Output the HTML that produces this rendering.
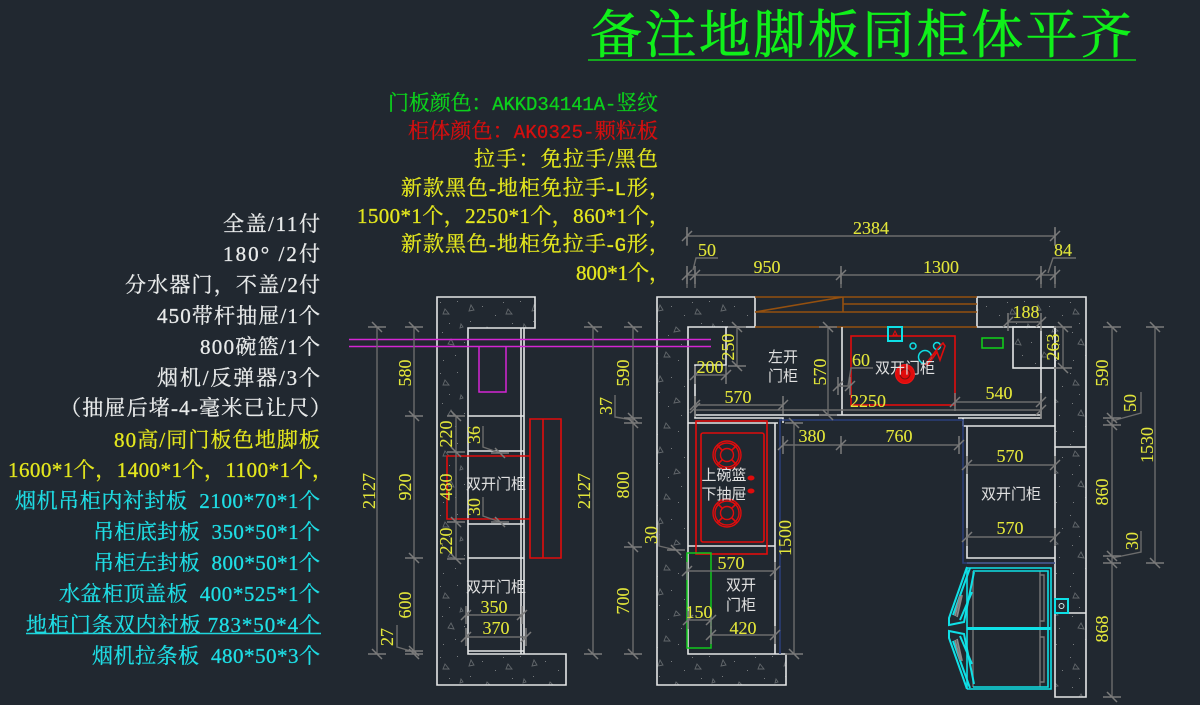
<!DOCTYPE html>
<html lang="zh"><head><meta charset="utf-8"><title>备注地脚板同柜体平齐</title>
<style>
html,body{margin:0;padding:0;background:#212830;width:1200px;height:705px;overflow:hidden}
svg{display:block}
text{white-space:pre}
.l{font-family:"Liberation Serif","Noto Serif CJK SC",serif;font-size:21px;text-anchor:end;stroke-width:.3}
.m{font-family:"Liberation Mono",monospace;font-size:19px}
.d{font-family:"Liberation Serif",serif;font-size:18px;fill:#e3e63a;stroke:#e3e63a;stroke-width:.1;text-anchor:middle}
.c{font-family:"Noto Sans CJK SC",sans-serif;font-size:15px;fill:#e0e0e0;text-anchor:middle}
.w{fill:#e8eaea;stroke:#e8eaea}.y{fill:#e3e61e;stroke:#e3e61e}.b{fill:#1fdde4;stroke:#1fdde4}
.g{fill:#0cd01c;stroke:#0cd01c}.r{fill:#d40f0f;stroke:#d40f0f}
.dim{stroke:#6c6c6c;stroke-width:1.4;fill:none}
.wl{stroke:#e4e6e6;stroke-width:1.6;fill:none}
.red{stroke:#e00c0c;stroke-width:1.6;fill:none}
.br{stroke:#94500f;stroke-width:1.6;fill:none}
.cy{stroke:#0fe0e6;stroke-width:2;fill:none}
</style></head><body>
<svg width="1200" height="705" viewBox="0 0 1200 705">
<defs>
<pattern id="h" width="63" height="71" patternUnits="userSpaceOnUse" patternTransform="translate(437 297)">
<g fill="none" stroke="#62676b" stroke-width=".9">
<path d="M8 12l4 5h-6zM34 8l3 5-5 1zM50 30l4 4-6 1zM14 42l3 6-6-1zM40 55l4 5-6 0zM24 27l2 3-3 1z"/>
</g>
<g fill="#777b7e">
<rect x="3" y="5" width="1" height="1"/><rect x="20" y="4" width="1" height="1"/><rect x="45" y="9" width="1" height="1"/><rect x="58" y="18" width="1" height="1"/><rect x="12" y="26" width="1" height="1"/><rect x="33" y="24" width="1" height="1"/><rect x="42" y="38" width="1" height="1"/><rect x="5" y="35" width="1" height="1"/><rect x="27" y="45" width="1" height="1"/><rect x="55" y="47" width="1" height="1"/><rect x="18" y="58" width="1" height="1"/><rect x="6" y="63" width="1" height="1"/><rect x="31" y="66" width="1" height="1"/><rect x="52" y="63" width="1" height="1"/>
</g>
</pattern>
<path id="v" d="M-5 -5L5 5M-9 0H9" stroke="#7a7a7a" stroke-width="1.5" fill="none"/>
<path id="u" d="M-5 5L5 -5M0 -9V9" stroke="#7a7a7a" stroke-width="1.5" fill="none"/>
<g id="burner" stroke="#e00c0c" stroke-width="1.4" fill="none">
<circle r="14"/><circle r="12"/><path d="M-10 -10L10 10M10 -10L-10 10" stroke-width="1.6"/><circle r="6.5" fill="#212830" stroke="#e00c0c"/>
</g>
</defs>
<rect width="1200" height="705" fill="#212830"/>

<!-- title -->
<text x="590" y="53" textLength="542" style="font-family:'Noto Serif CJK SC',serif;font-size:52px;stroke:#10f01a;stroke-width:.6" fill="#10f01a">备注地脚板同柜体平齐</text>
<line x1="588" y1="60" x2="1136" y2="60" stroke="#10d418" stroke-width="1.5"/>

<!-- upper note block -->
<text class="l g" x="658" y="110" textLength="270">门板颜色：<tspan class="m">AKKD34141A-</tspan>竖纹</text>
<text class="l r" x="658" y="138" textLength="250">柜体颜色：<tspan class="m">AK0325-</tspan>颗粒板</text>
<text class="l y" x="658" y="166" textLength="184">拉手：免拉手/黑色</text>
<text class="l y" x="670" y="195" textLength="269">新款黑色-地柜免拉手-<tspan class="m">L</tspan>形，</text>
<text class="l y" x="670" y="223" textLength="313">1500*1个，2250*1个，860*1个，</text>
<text class="l y" x="670" y="251" textLength="269">新款黑色-地柜免拉手-<tspan class="m">G</tspan>形，</text>
<text class="l y" x="670" y="280" textLength="94">800*1个，</text>

<!-- left note block -->
<text class="l w" x="320" y="231" textLength="97">全盖/11付</text>
<text class="l w" x="320" y="261" textLength="97">180° /2付</text>
<text class="l w" x="320" y="292" textLength="195">分水器门，不盖/2付</text>
<text class="l w" x="320" y="323" textLength="163">450带杆抽屉/1个</text>
<text class="l w" x="320" y="354" textLength="120">800碗篮/1个</text>
<text class="l w" x="320" y="385" textLength="163">烟机/反弹器/3个</text>
<text class="l w" x="331" y="415" textLength="271">（抽屉后堵-4-毫米已让尺）</text>
<text class="l y" x="320" y="447" textLength="206">80高/同门板色地脚板</text>
<text class="l y" x="333" y="477" textLength="325">1600*1个，1400*1个，1100*1个，</text>
<text class="l b" x="320" y="508" textLength="305">烟机吊柜内衬封板  2100*70*1个</text>
<text class="l b" x="320" y="539" textLength="227">吊柜底封板  350*50*1个</text>
<text class="l b" x="320" y="570" textLength="227">吊柜左封板  800*50*1个</text>
<text class="l b" x="320" y="601" textLength="261">水盆柜顶盖板  400*525*1个</text>
<text class="l b" x="320" y="632" textLength="294">地柜门条双内衬板 783*50*4个</text>
<line x1="26" y1="633.5" x2="321" y2="633.5" stroke="#1fd5dc" stroke-width="1.4"/>
<text class="l b" x="320" y="663" textLength="228">烟机拉条板  480*50*3个</text>

<!-- concrete -->
<path d="M437 297H535V328H468V654H566V685H437Z" fill="url(#h)" stroke="#e4e6e6" stroke-width="1.6"/>
<path d="M657 297H755V327H688V654H786V685H657Z" fill="url(#h)" stroke="#e4e6e6" stroke-width="1.6"/>
<path d="M977 297H1086V697H1055V327H977Z" fill="url(#h)" stroke="#e4e6e6" stroke-width="1.6"/>
<rect x="1013" y="327" width="42" height="41" fill="url(#h)" stroke="#e4e6e6" stroke-width="1.6"/>

<!-- left elevation -->
<path class="wl" d="M521 328V654M524 328V654M468 416H524M468 451H524M468 524H524M468 558H524M468 651H524"/>
<path d="M349 339.5H711M349 346.5H711M479 347V392H506V347" stroke="#d426d4" stroke-width="1.5" fill="none"/>
<path class="red" d="M530 419H561V558H530ZM543 419V558M530 456H447V519H530"/>

<path class="dim" d="M377 327V654M414 327V654M456 416V559M593 327V654M633 327V654"/>
<path class="dim" d="M466 615H522M466 637H526"/>
<path class="dim" d="M483 426V447L500 453M483 497V516L500 522M397 625V647L414 652M615 395V417L633 420M659 524V546L676 550"/>
<use href="#v" x="377" y="327"/><use href="#v" x="377" y="654"/>
<use href="#v" x="414" y="327"/><use href="#v" x="414" y="416"/><use href="#v" x="414" y="558"/><use href="#v" x="414" y="651"/><use href="#v" x="414" y="654"/>
<use href="#v" x="456" y="416"/><use href="#v" x="456" y="452"/><use href="#v" x="456" y="522"/><use href="#v" x="456" y="559"/>
<use href="#v" x="500" y="453"/><use href="#v" x="500" y="522"/>
<use href="#v" x="593" y="327"/><use href="#v" x="593" y="654"/>
<use href="#v" x="633" y="327"/><use href="#v" x="633" y="418"/><use href="#v" x="633" y="423"/><use href="#v" x="633" y="547"/><use href="#v" x="633" y="654"/>
<use href="#v" x="676" y="550"/>
<use href="#u" x="466" y="615"/><use href="#u" x="522" y="615"/><use href="#u" x="466" y="637"/><use href="#u" x="526" y="637"/>

<text class="d" transform="translate(411 373) rotate(-90)">580</text>
<text class="d" transform="translate(411 487) rotate(-90)">920</text>
<text class="d" transform="translate(411 605) rotate(-90)">600</text>
<text class="d" transform="translate(375 491) rotate(-90)">2127</text>
<text class="d" transform="translate(393 637) rotate(-90)">27</text>
<text class="d" transform="translate(452 434) rotate(-90)">220</text>
<text class="d" transform="translate(452 487) rotate(-90)">480</text>
<text class="d" transform="translate(452 541) rotate(-90)">220</text>
<text class="d" transform="translate(480 435) rotate(-90)">36</text>
<text class="d" transform="translate(480 507) rotate(-90)">30</text>
<text class="d" transform="translate(590 491) rotate(-90)">2127</text>
<text class="d" transform="translate(629 373) rotate(-90)">590</text>
<text class="d" transform="translate(612 406) rotate(-90)">37</text>
<text class="d" transform="translate(629 485) rotate(-90)">800</text>
<text class="d" transform="translate(629 601) rotate(-90)">700</text>
<text class="d" transform="translate(657 535) rotate(-90)">30</text>
<text class="d" x="494" y="613">350</text>
<text class="d" x="496" y="634">370</text>
<text class="c" x="496" y="489">双开门柜</text>
<text class="c" x="496" y="592">双开门柜</text>

<!-- plan: counter and cabinets -->
<path class="br" d="M755 297H977M843 304H977M755 312H977M755 327H977M843 297V312M755 312L843 297"/>
<path class="wl" d="M726 327V365H695V418H783V423M688 423H778M775 423V654M688 546H775M695 415H1041M842 327V415M1041 327V418H958M963 418V426M963 426H1055M1055 447H1086M1055 613H1086"/>
<path class="wl" d="M967 426V558H1055M967 563H1055"/>
<path d="M780 419V654M780 420H963V563H1055" stroke="#2a3f7a" stroke-width="1.5" fill="none"/>

<!-- hob and sink -->
<rect class="red" x="851" y="336" width="104" height="69" stroke-width="1.7"/>
<rect class="cy" x="888" y="327" width="14" height="14"/>
<path d="M893 335h4l-2-4z" stroke="#e00c0c" fill="none"/>
<rect x="982" y="338" width="21" height="10" fill="none" stroke="#10d418" stroke-width="1.5"/>
<circle class="cy" style="stroke-width:1.5" cx="913" cy="346" r="3"/><circle class="cy" style="stroke-width:1.5" cx="925" cy="357" r="6.5"/><circle class="cy" style="stroke-width:1.5" cx="937" cy="346" r="3.5"/>
<circle cx="905" cy="374" r="9.5" fill="#e00c0c" stroke="#ee1515"/><circle cx="905" cy="374" r="5" fill="none" stroke="#7a1010"/>
<path class="red" d="M925 365L938 348L943 343L945 346L940 360L937 352L927 366"/>

<!-- basket unit -->
<rect class="red" x="696" y="421" width="71" height="133" stroke="#c8181a"/>
<rect class="red" x="701" y="433" width="63" height="109" rx="2"/>
<use href="#burner" x="727" y="455"/><use href="#burner" x="727" y="513"/>
<ellipse cx="751" cy="478" rx="3.5" ry="2.5" fill="#e00c0c"/><ellipse cx="751" cy="491" rx="3.5" ry="2.5" fill="#e00c0c"/>
<rect x="687" y="553" width="24" height="95" fill="none" stroke="#10c81c" stroke-width="1.5"/>

<!-- plan dims -->
<path class="dim" d="M687 236H1055M687 275H1055M687 228V246M1055 228V246"/>
<path class="dim" d="M687 270V288M695 270V288M841 270V288M1041 270V288M1055 270V288"/>
<path class="dim" d="M693 270L696 258H718M1048 273L1053 258H1076M848 386L851 368H873"/>
<path class="dim" d="M737 327V366M695 375H726M695 405H783M695 410H1041M828 327V415M838 386H850M955 402H1041M783 445H959M794 423V654M687 571H775M688 620H711M711 635H775M967 465H1055M967 537H1055M1008 322H1041M1063 327V368"/>
<path class="dim" d="M1112 327V697M1155 327V563M1141 392V413L1112 421M1141 531V552L1112 558"/>
<g>
<use href="#u" x="687" y="236"/><use href="#u" x="1055" y="236"/>
<use href="#u" x="687" y="275"/><use href="#u" x="695" y="275"/><use href="#u" x="841" y="275"/><use href="#u" x="1041" y="275"/><use href="#u" x="1055" y="275"/>
<use href="#v" x="737" y="327"/><use href="#v" x="737" y="366"/>
<use href="#u" x="695" y="375"/><use href="#u" x="726" y="375"/>
<use href="#u" x="695" y="405"/><use href="#u" x="783" y="405"/><use href="#u" x="695" y="408"/>
<use href="#v" x="828" y="327"/><use href="#v" x="828" y="415"/>
<use href="#u" x="838" y="386"/><use href="#u" x="850" y="386"/>
<use href="#u" x="955" y="402"/><use href="#u" x="1041" y="402"/><use href="#u" x="1041" y="410"/>
<use href="#u" x="783" y="445"/><use href="#u" x="841" y="445"/><use href="#u" x="959" y="445"/>
<use href="#v" x="794" y="423"/><use href="#v" x="794" y="654"/>
<use href="#u" x="687" y="571"/><use href="#u" x="775" y="571"/>
<use href="#u" x="688" y="620"/><use href="#u" x="711" y="620"/>
<use href="#u" x="711" y="635"/><use href="#u" x="775" y="635"/>
<use href="#u" x="967" y="465"/><use href="#u" x="1055" y="465"/>
<use href="#u" x="967" y="537"/><use href="#u" x="1055" y="537"/>
<use href="#u" x="1008" y="322"/><use href="#u" x="1041" y="322"/>
<use href="#v" x="1063" y="327"/><use href="#v" x="1063" y="368"/>
<use href="#v" x="1112" y="327"/><use href="#v" x="1112" y="418"/><use href="#v" x="1112" y="425"/><use href="#v" x="1112" y="556"/><use href="#v" x="1112" y="563"/><use href="#v" x="1112" y="697"/>
<use href="#v" x="1155" y="327"/><use href="#v" x="1155" y="563"/>
</g>

<text class="d" x="871" y="234">2384</text>
<text class="d" x="707" y="256">50</text>
<text class="d" x="767" y="273">950</text>
<text class="d" x="941" y="273">1300</text>
<text class="d" x="1063" y="256">84</text>
<text class="d" x="1026" y="318">188</text>
<text class="d" transform="translate(1059 347) rotate(-90)">263</text>
<text class="d" transform="translate(734 347) rotate(-90)">250</text>
<text class="d" x="710" y="373">200</text>
<text class="d" x="738" y="403">570</text>
<text class="d" transform="translate(826 372) rotate(-90)">570</text>
<text class="d" x="861" y="366">60</text>
<text class="d" x="868" y="407">2250</text>
<text class="d" x="999" y="399">540</text>
<text class="d" x="812" y="442">380</text>
<text class="d" x="899" y="442">760</text>
<text class="d" transform="translate(791 538) rotate(-90)">1500</text>
<text class="d" x="731" y="569">570</text>
<text class="d" x="699" y="618">150</text>
<text class="d" x="743" y="634">420</text>
<text class="d" x="1010" y="462">570</text>
<text class="d" x="1010" y="534">570</text>
<text class="d" transform="translate(1108 373) rotate(-90)">590</text>
<text class="d" transform="translate(1136 403) rotate(-90)">50</text>
<text class="d" transform="translate(1153 445) rotate(-90)">1530</text>
<text class="d" transform="translate(1108 492) rotate(-90)">860</text>
<text class="d" transform="translate(1138 541) rotate(-90)">30</text>
<text class="d" transform="translate(1108 629) rotate(-90)">868</text>

<text class="c" x="783" y="362">左开</text>
<text class="c" x="783" y="381">门柜</text>
<text class="c" x="905" y="373">双开门柜</text>
<text class="c" x="724" y="480">上碗篮</text>
<text class="c" x="724" y="499">下抽屉</text>
<text class="c" x="741" y="590">双开</text>
<text class="c" x="741" y="610">门柜</text>
<text class="c" x="1011" y="499">双开门柜</text>

<!-- fridge -->
<path d="M973 571V687M1040 571V687M1040 575H1044V621H1040M1040 637H1044V682H1040" stroke="#777" stroke-width="1.4" fill="none"/>
<path class="cy" d="M967 568H1051V689H967M973 571H1048V687H973M967 568V689" style="stroke-width:1.6"/>
<path class="cy" style="stroke-width:3" d="M967 628.5H1051"/>
<path class="cy" d="M967 567L949 618L949 625L964 622L974 572M970 568L953 615M972 592L960 620"/>
<path class="cy" d="M967 689L949 638L949 631L964 634L974 684M970 688L953 641M972 664L960 636"/>
<path d="M962 595L957 617M960 596L955 616M962 661L957 639M960 660L955 640" stroke="#8a8a8a" stroke-width="1.8" fill="none"/>
<rect class="cy" x="1055" y="599" width="13" height="14"/>
<circle cx="1061.5" cy="606" r="2.5" fill="none" stroke="#cfeeee"/>
</svg>
</body></html>
